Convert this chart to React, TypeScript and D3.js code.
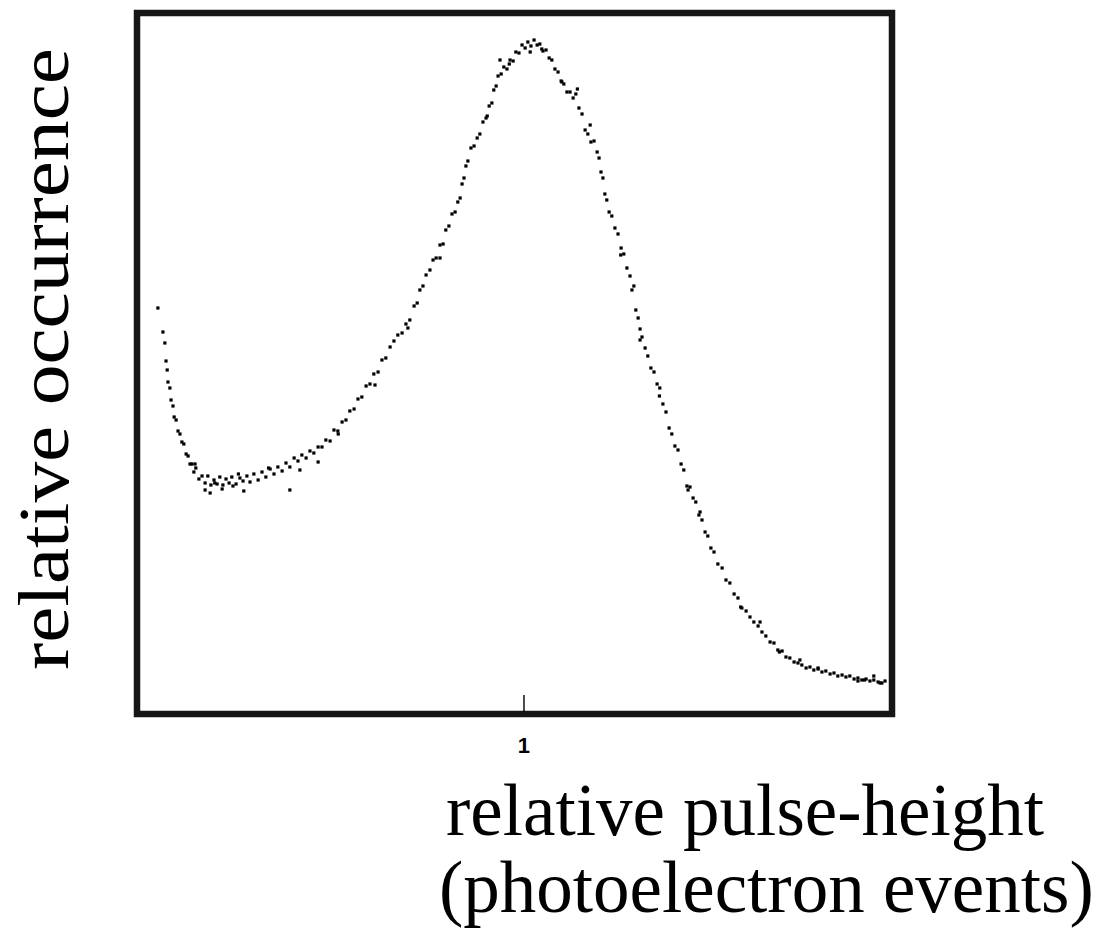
import React from "react";
import * as d3 from "d3";

// relative pulse-height (1 = single photoelectron peak)
const pulseHeight = [
  0.054, 0.067, 0.072, 0.075, 0.078, 0.080, 0.085, 0.088, 0.093, 0.096,
  0.101, 0.106, 0.111, 0.116, 0.121, 0.127, 0.132, 0.137, 0.142, 0.147,
  0.152, 0.160, 0.168, 0.176, 0.183, 0.191, 0.199, 0.207, 0.214, 0.222,
  0.230, 0.238, 0.245, 0.256, 0.266, 0.274, 0.284, 0.292, 0.302, 0.313,
  0.323, 0.333, 0.344, 0.354, 0.364, 0.375, 0.385, 0.395, 0.406, 0.416,
  0.426, 0.437, 0.447, 0.457, 0.468, 0.478, 0.488, 0.499, 0.509, 0.519,
  0.530, 0.540, 0.550, 0.561, 0.571, 0.581, 0.592, 0.602, 0.612, 0.623,
  0.633, 0.643, 0.654, 0.664, 0.674, 0.685, 0.695, 0.705, 0.716, 0.724,
  0.731, 0.739, 0.747, 0.757, 0.765, 0.773, 0.783, 0.791, 0.798, 0.806,
  0.814, 0.822, 0.829, 0.835, 0.840, 0.845, 0.850, 0.855, 0.863, 0.871,
  0.879, 0.886, 0.894, 0.902, 0.910, 0.917, 0.922, 0.928, 0.933, 0.941,
  0.948, 0.956, 0.964, 0.972, 0.979, 0.987, 0.995, 1.003, 1.010, 1.018,
  1.026, 1.034, 1.041, 1.049, 1.057, 1.065, 1.072, 1.080, 1.088, 1.096,
  1.103, 1.111, 1.119, 1.127, 1.134, 1.142, 1.150, 1.158, 1.165, 1.173,
  1.181, 1.189, 1.194, 1.199, 1.204, 1.209, 1.214, 1.220, 1.227, 1.235,
  1.243, 1.251, 1.258, 1.266, 1.274, 1.279, 1.284, 1.289, 1.295, 1.300,
  1.305, 1.313, 1.320, 1.328, 1.336, 1.344, 1.351, 1.359, 1.367, 1.375,
  1.382, 1.390, 1.398, 1.406, 1.413, 1.421, 1.429, 1.437, 1.444, 1.452,
  1.460, 1.468, 1.475, 1.483, 1.491, 1.501, 1.512, 1.522, 1.532, 1.543,
  1.553, 1.563, 1.574, 1.584, 1.594, 1.605, 1.615, 1.625, 1.636, 1.646,
  1.656, 1.667, 1.677, 1.687, 1.698, 1.708, 1.718, 1.729, 1.739, 1.749,
  1.760, 1.770, 1.780, 1.791, 1.801, 1.811, 1.822, 1.832, 1.842, 1.853,
  1.863, 1.873, 1.884, 1.894, 1.904, 1.915, 1.925, 1.933,
  // scattered outliers
  0.176, 0.189, 0.220, 0.248, 0.276, 0.395, 0.421, 0.468, 0.615, 0.783,
  0.938, 1.016, 1.098, 1.171, 1.300, 1.424, 1.610, 1.713, 1.863, 1.904,
  0.150, 0.201, 0.262, 0.340, 0.520, 0.700, 0.905, 0.962, 1.046, 1.138,
  1.250, 1.350, 1.455, 1.560, 1.660, 1.760, 1.880, 1.920,
];

// relative occurrence (counts per channel, arbitrary units)
const occurrence = [
  812, 764, 742, 706, 688, 664, 652, 628, 616, 594,
  588, 566, 560, 544, 540, 520, 516, 500, 500, 484,
  492, 470, 476, 462, 476, 458, 468, 460, 474, 458,
  470, 462, 474, 460, 472, 466, 476, 464, 480, 468,
  484, 474, 490, 480, 494, 486, 502, 494, 512, 506,
  518, 512, 526, 522, 534, 534, 548, 546, 568, 566,
  584, 588, 606, 610, 630, 634, 656, 660, 680, 684,
  708, 712, 734, 746, 758, 762, 780, 788, 816, 822,
  848, 856, 878, 888, 908, 912, 938, 940, 968, 976,
  1000, 1004, 1024, 1032, 1060, 1072, 1096, 1106, 1132, 1136,
  1152, 1160, 1184, 1192, 1216, 1222, 1248, 1256, 1276, 1280,
  1294, 1290, 1308, 1306, 1324, 1322, 1338, 1332, 1344, 1336,
  1348, 1338, 1340, 1326, 1328, 1312, 1308, 1290, 1284, 1266,
  1260, 1244, 1244, 1232, 1240, 1212, 1200, 1168, 1160, 1144,
  1146, 1124, 1112, 1084, 1072, 1040, 1028, 1004, 996, 972,
  960, 932, 920, 892, 876, 848, 856, 808, 792, 770,
  754, 732, 716, 692, 684, 660, 652, 620, 604, 572,
  560, 536, 528, 500, 488, 456, 454, 432, 424, 398,
  388, 364, 356, 332, 324, 300, 292, 268, 262, 240,
  232, 212, 206, 194, 184, 176, 164, 156, 144, 142,
  128, 126, 114, 112, 104, 102, 98, 92, 94, 88,
  90, 84, 86, 80, 82, 76, 78, 74, 76, 70,
  72, 68, 70, 66, 68, 64, 62, 66,
  448, 442, 450, 456, 446, 448, 488, 504, 658, 912,
  1308, 1324, 1264, 1178, 748, 448, 184, 108, 66, 76,
  500, 462, 480, 492, 560, 772, 1196, 1300, 1330, 1250,
  918, 636, 404, 214, 124, 92, 68, 62,
];

const xDomain = [0, 1.951];
const yDomain = [0, 1402];
const xTicks = [1];
const xLabelLines = ["relative pulse-height", "(photoelectron events)"];
const yLabel = "relative occurrence";

const W = 1109;
const H = 932;
const frame = { left: 137, right: 892, top: 13, bottom: 714 };

export default function App() {
  const x = d3.scaleLinear().domain(xDomain).range([frame.left, frame.right]);
  const y = d3.scaleLinear().domain(yDomain).range([frame.bottom, frame.top]);
  const pts = pulseHeight.map((v, i) => [x(v), y(occurrence[i])]);
  const dot = 3.2;
  const serif = "Liberation Serif, Times New Roman, serif";

  return (
    <svg
      width={W}
      height={H}
      viewBox={`0 0 ${W} ${H}`}
      style={{ position: "absolute", left: 0, top: 0, background: "#fff", display: "block" }}
    >
      <rect x={0} y={0} width={W} height={H} fill="#fff" />
      <g>
        {pts.map(([px, py], i) => (
          <rect key={i} x={px - dot / 2} y={py - dot / 2} width={dot} height={dot} fill="#000" />
        ))}
      </g>
      <rect
        x={frame.left}
        y={frame.top}
        width={frame.right - frame.left}
        height={frame.bottom - frame.top}
        fill="none"
        stroke="#161616"
        strokeWidth={6.5}
      />
      {xTicks.map((t) => (
        <g key={t}>
          <line x1={x(t)} x2={x(t)} y1={frame.bottom - 19} y2={frame.bottom - 2} stroke="#000" strokeWidth={1.4} />
          <text
            x={x(t)}
            y={753}
            textAnchor="middle"
            fontFamily="Liberation Sans, Arial, sans-serif"
            fontWeight="bold"
            fontSize={22}
            fill="#000"
          >
            {d3.format("d")(t)}
          </text>
        </g>
      ))}
      <text x={446} y={835} fontFamily={serif} fontSize={73} fill="#000">
        {xLabelLines[0]}
      </text>
      <text x={439} y={912} fontFamily={serif} fontSize={73} fill="#000">
        {xLabelLines[1]}
      </text>
      <text
        transform="translate(68,670) rotate(-90)"
        x={0}
        y={0}
        fontFamily={serif}
        fontSize={72}
        textLength={622}
        lengthAdjust="spacingAndGlyphs"
        fill="#000"
      >
        {yLabel}
      </text>
    </svg>
  );
}
